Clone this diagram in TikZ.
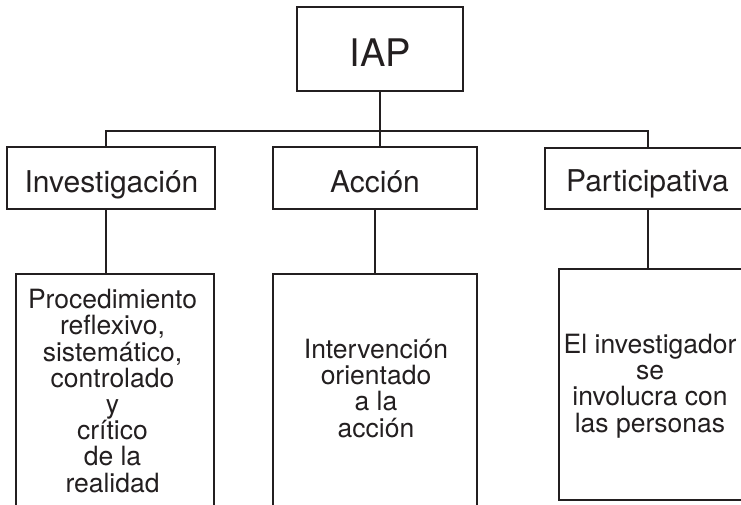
\documentclass[tikz,border=0pt]{standalone}
\usepackage{fontspec}
\setmainfont{TeX Gyre Heros}
\definecolor{ink}{HTML}{231F20}
\begin{document}
\begin{tikzpicture}[x=1pt,y=-1pt,
  box/.style={draw=ink,line width=1.2pt,rectangle,inner sep=0pt,outer sep=0pt},
  conn/.style={draw=ink,line width=1.2pt},
  bigtxt/.style={inner sep=0pt,anchor=base,text=ink,font=\fontsize{38}{40}\selectfont},
  midtxt/.style={inner sep=0pt,anchor=base,text=ink,font=\fontsize{30}{32}\selectfont},
  lowtxt/.style={inner sep=0pt,anchor=base,text=ink,align=center,font=\fontsize{26.5}{26.2}\selectfont}]
\useasboundingbox (0,0) rectangle (741,504);
\fill[white] (0,0) rectangle (741,504);
\clip (0,0) rectangle (741,504);
% boxes
\node[box,minimum width=166pt,minimum height=84pt] (iap) at (380,49) {};
\node[box,minimum width=208pt,minimum height=62pt] (inv) at (111,178) {};
\node[box,minimum width=204pt,minimum height=62pt] (acc) at (375,178) {};
\node[box,minimum width=206pt,minimum height=61pt] (par) at (648,178.5) {};
\node[box,minimum width=198pt,minimum height=246pt] (low1) at (115,397) {};
\node[box,minimum width=204pt,minimum height=246pt] (low2) at (375,397) {};
\node[box,minimum width=190pt,minimum height=231pt] (low3) at (654,384.5) {};
% texts
\node[bigtxt] (tiap) at (380.5,66) {IAP};
\node[midtxt] (tinv) at (111.5,192) {Investigación};
\node[midtxt] (tacc) at (375,192) {Acción};
\node[midtxt] (tpar) at (647.5,191) {Participativa};
\node[lowtxt] (tlow1) at (112.5,492) {Procedimiento\\reflexivo,\\sistemático,\\controlado\\y\\crítico\\de la\\realidad};
\node[lowtxt] (tlow2) at (376,437) {Intervención\\orientado\\a la\\acción};
\node[lowtxt] (tlow3) at (650,432) {El investigador\\se\\involucra con\\las personas};
% connectors
\coordinate (j1) at (106,131);
\coordinate (j3) at (648,131);
\draw[conn] (iap.south) -- (iap.south |- acc.north);
\draw[conn] (j1 |- inv.north) -- (j1) -- (j3) -- (par.north);
\draw[conn] (j1 |- inv.south) -- (j1 |- low1.north);
\draw[conn] (acc.south) -- (low2.north);
\draw[conn] (par.south) -- (par.south |- low3.north);
\end{tikzpicture}
\end{document}
